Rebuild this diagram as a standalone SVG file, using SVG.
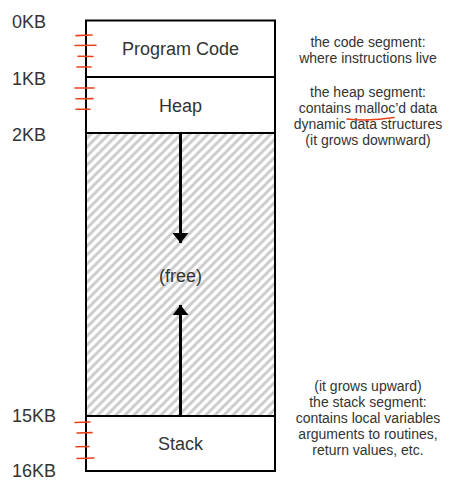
<svg xmlns="http://www.w3.org/2000/svg" width="455" height="498" viewBox="0 0 455 498">
<defs>
<pattern id="hatch" patternUnits="userSpaceOnUse" width="9" height="9">
<rect width="9" height="9" fill="#fff"/>
<path d="M-2,2 L2,-2 M0,9 L9,0 M7,11 L11,7" stroke="#cdcdcd" stroke-width="3"/>
</pattern>
<marker id="ah" viewBox="0 0 10 16" refX="10" refY="8" markerWidth="10" markerHeight="16" markerUnits="userSpaceOnUse" orient="auto">
<path d="M0,0 L10,8 L0,16 Z" fill="#000"/>
</marker>
<style>
.lbl{font-family:"Liberation Sans",Arial,sans-serif;font-size:18px;fill:#333}
.seg{font-family:"Liberation Sans",Arial,sans-serif;font-size:18px;fill:#333;text-anchor:middle}
.note{font-family:"Liberation Sans",Arial,sans-serif;font-size:14px;fill:#333;text-anchor:middle}
.box{fill:#fff;stroke:#000;stroke-width:2}
.tick{stroke:#e8421c;stroke-width:1.6;fill:none;stroke-linecap:round}
</style>
</defs>
<rect width="455" height="498" fill="#fff"/>
<g id="labels">
<text class="lbl" x="12" y="28">0KB</text>
<text class="lbl" x="12" y="85">1KB</text>
<text class="lbl" x="12" y="141">2KB</text>
<text class="lbl" x="12" y="422">15KB</text>
<text class="lbl" x="12" y="477">16KB</text>
</g>
<g id="free">
<rect x="86" y="133" width="189" height="283" fill="url(#hatch)" stroke="#000" stroke-width="2"/>
<text class="seg" x="180.5" y="282">(free)</text>
</g>
<g id="code">
<rect class="box" x="86" y="20.5" width="189" height="56.5"/>
<text class="seg" x="180.5" y="55">Program Code</text>
</g>
<g id="heap">
<rect class="box" x="86" y="77" width="189" height="56"/>
<text class="seg" x="180.5" y="112">Heap</text>
</g>
<g id="stack">
<rect class="box" x="86" y="416" width="189" height="55"/>
<text class="seg" x="180.5" y="450">Stack</text>
</g>
<g id="connectors">
<line x1="180.5" y1="134" x2="180.5" y2="243" stroke="#000" stroke-width="3" marker-end="url(#ah)"/>
<line x1="180.5" y1="415" x2="180.5" y2="305" stroke="#000" stroke-width="3" marker-end="url(#ah)"/>
</g>
<g id="notes">
<text class="note" x="368" y="47">the code segment:</text>
<text class="note" x="368" y="63">where instructions live</text>
<text class="note" x="368" y="97">the heap segment:</text>
<text class="note" x="368" y="113">contains malloc’d data</text>
<text class="note" x="368" y="129">dynamic data structures</text>
<text class="note" x="368" y="145">(it grows downward)</text>
<text class="note" x="368" y="391">(it grows upward)</text>
<text class="note" x="368" y="407">the stack segment:</text>
<text class="note" x="368" y="423">contains local variables</text>
<text class="note" x="368" y="439">arguments to routines,</text>
<text class="note" x="368" y="455">return values, etc.</text>
</g>
<g id="marks">
<path class="tick" d="M76,35.6 L92,35"/>
<path class="tick" d="M75,45.5 L96,45.2"/>
<path class="tick" d="M78,56.3 L93,56.5"/>
<path class="tick" d="M77,67 L91,67"/>
<path class="tick" d="M75,88 L94,88"/>
<path class="tick" d="M76,98.8 L93,98.6"/>
<path class="tick" d="M76,109.3 L90,109.3"/>
<path class="tick" d="M75,422.5 L90,422"/>
<path class="tick" d="M77,433 L92,432.6"/>
<path class="tick" d="M76,446.8 L89,446.5"/>
<path class="tick" d="M77,458.5 L94,458"/>
<path class="tick" d="M347,119 Q370,121.5 394,117.5"/>
</g>
</svg>
